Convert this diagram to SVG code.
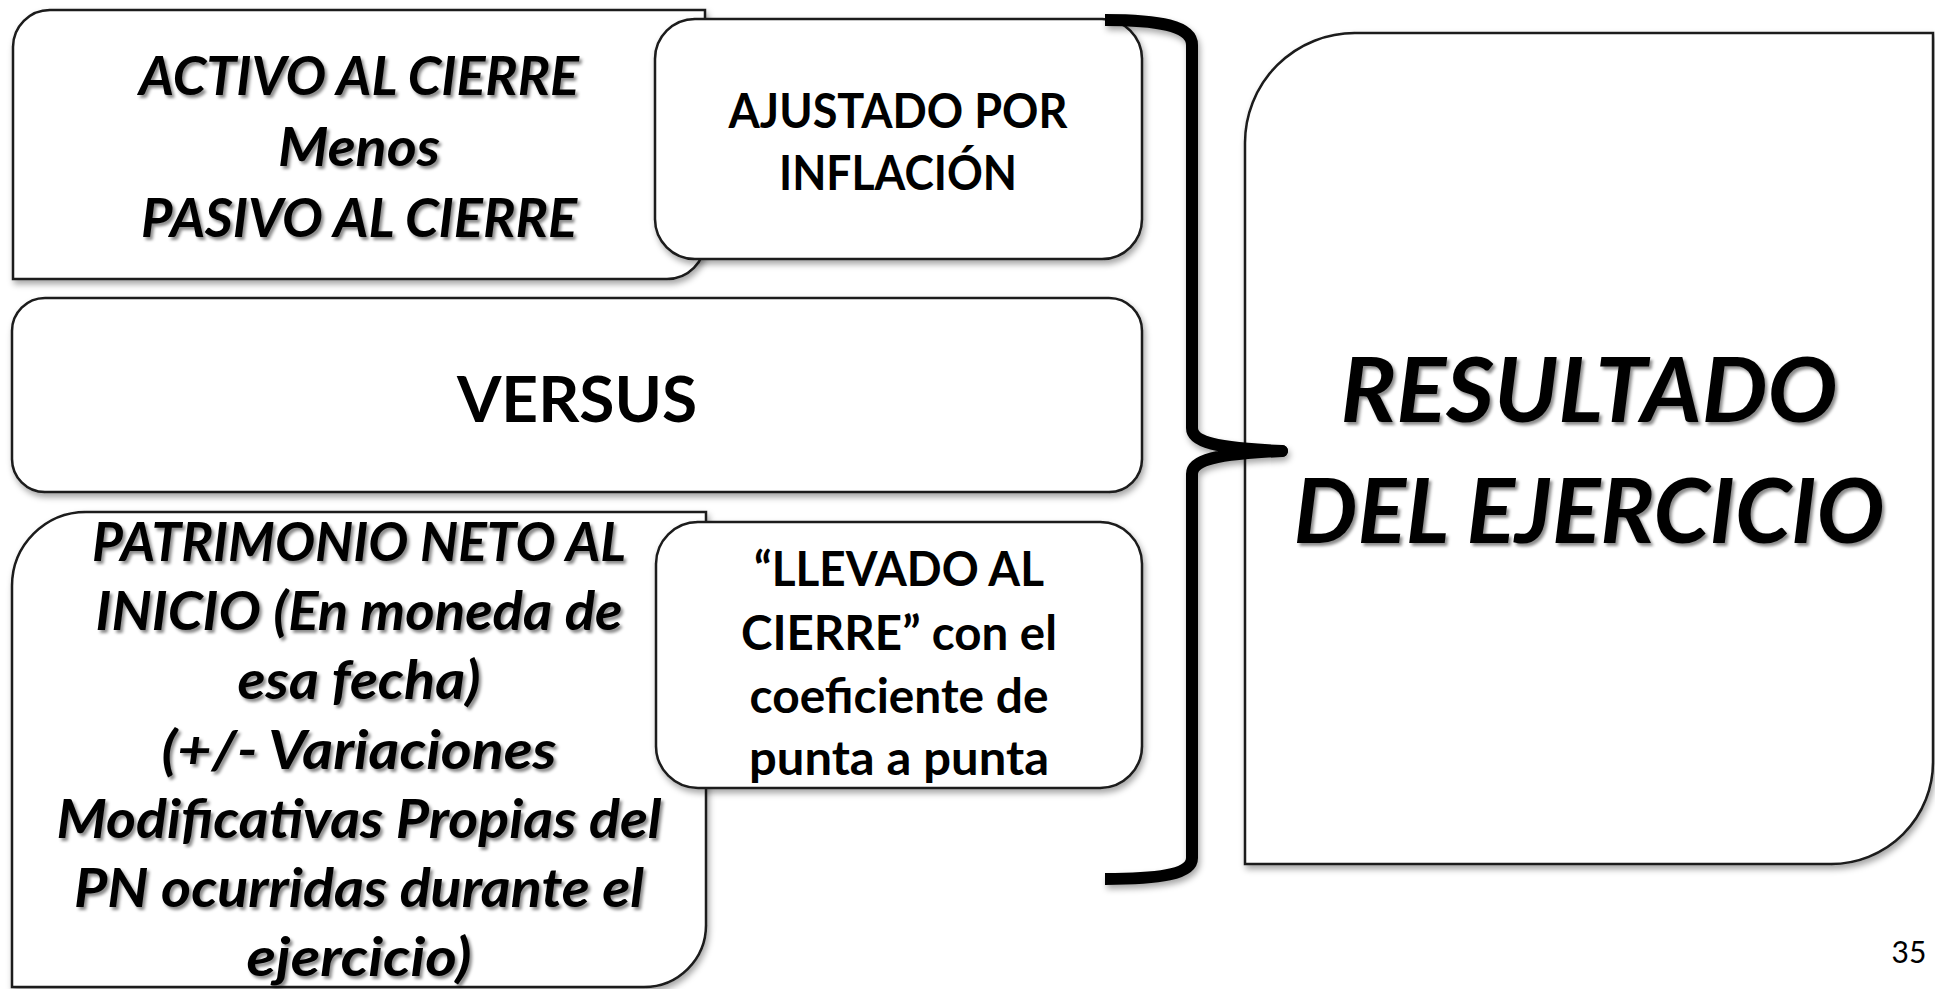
<svg xmlns="http://www.w3.org/2000/svg" width="1935" height="989" viewBox="0 0 1935 989">
<defs>
<filter id="boxShadow" x="-5%" y="-5%" width="115%" height="115%">
<feDropShadow dx="2" dy="4" stdDeviation="3" flood-color="#000" flood-opacity="0.35"/>
</filter>
<filter id="txtShadow" x="-5%" y="-10%" width="115%" height="130%">
<feDropShadow dx="2.5" dy="3" stdDeviation="1.5" flood-color="#000" flood-opacity="0.45"/>
</filter>
<style>
.box{fill:#fff;stroke:#1a1a1a;stroke-width:2.5;filter:url(#boxShadow)}
.bi{font-family:Lato,"Liberation Sans",sans-serif;font-weight:bold;font-style:italic;fill:#000;text-anchor:middle;filter:url(#txtShadow)}
.b{font-family:Lato,"Liberation Sans",sans-serif;font-weight:bold;fill:#000;text-anchor:middle}
.brace{fill:none;stroke:#000;stroke-width:12;stroke-linejoin:round;filter:url(#boxShadow)}
</style>
</defs>
<rect width="1935" height="989" fill="#fff"/>

<g id="node-activo">
<path class="box" d="M13,47 A37,37 0 0 1 50,10 H705 V241 A38,38 0 0 1 667,279 H13 Z"/>
<text class="bi" font-size="54" x="359" y="95" textLength="440" lengthAdjust="spacingAndGlyphs">ACTIVO AL CIERRE</text>
<text class="bi" font-size="54" x="359" y="166" textLength="162" lengthAdjust="spacingAndGlyphs">Menos</text>
<text class="bi" font-size="54" x="359" y="237" textLength="436" lengthAdjust="spacingAndGlyphs">PASIVO AL CIERRE</text>
</g>

<g id="node-ajustado">
<rect class="box" x="655" y="19" width="487" height="240" rx="40" ry="40"/>
<text class="b" font-size="47" x="898" y="128" textLength="339" lengthAdjust="spacingAndGlyphs">AJUSTADO POR</text>
<text class="b" font-size="47" x="898" y="190" textLength="238" lengthAdjust="spacingAndGlyphs">INFLACIÓN</text>
</g>

<g id="node-versus">
<rect class="box" x="12" y="298" width="1130" height="194" rx="33" ry="33"/>
<text class="b" font-size="64" x="577" y="422">VERSUS</text>
</g>

<g id="node-patrimonio">
<path class="box" d="M12,586 A74,74 0 0 1 86,512 H706 V925 A62,62 0 0 1 644,987 H12 Z"/>
<text class="bi" font-size="54" x="359" y="561" textLength="534" lengthAdjust="spacingAndGlyphs">PATRIMONIO NETO AL</text>
<text class="bi" font-size="54" x="359" y="630" textLength="527" lengthAdjust="spacingAndGlyphs">INICIO (En moneda de</text>
<text class="bi" font-size="54" x="359" y="699" textLength="243" lengthAdjust="spacingAndGlyphs">esa fecha)</text>
<text class="bi" font-size="54" x="359" y="769" textLength="395" lengthAdjust="spacingAndGlyphs">(+/- Variaciones</text>
<text class="bi" font-size="54" x="359" y="838" textLength="605" lengthAdjust="spacingAndGlyphs">Modificativas Propias del</text>
<text class="bi" font-size="54" x="359" y="907" textLength="570" lengthAdjust="spacingAndGlyphs">PN ocurridas durante el</text>
<text class="bi" font-size="54" x="359" y="976" textLength="225" lengthAdjust="spacingAndGlyphs">ejercicio)</text>
</g>

<g id="node-llevado">
<rect class="box" x="656" y="522" width="486" height="266" rx="42" ry="42"/>
<text class="b" font-size="47" x="899" y="586" textLength="290" lengthAdjust="spacingAndGlyphs">“LLEVADO AL</text>
<text class="b" font-size="47" x="899" y="650" textLength="316" lengthAdjust="spacingAndGlyphs">CIERRE” con el</text>
<text class="b" font-size="47" x="899" y="713" textLength="299" lengthAdjust="spacingAndGlyphs">coeficiente de</text>
<text class="b" font-size="47" x="899" y="775" textLength="300" lengthAdjust="spacingAndGlyphs">punta a punta</text>
</g>

<g id="node-resultado">
<path class="box" d="M1245,143 A110,110 0 0 1 1355,33 H1933 V762 A102,102 0 0 1 1831,864 H1245 Z"/>
<text class="bi" font-size="90" x="1589" y="422" textLength="497" lengthAdjust="spacingAndGlyphs">RESULTADO</text>
<text class="bi" font-size="90" x="1589" y="543" textLength="591" lengthAdjust="spacingAndGlyphs">DEL EJERCICIO</text>
</g>

<g id="connectors">
<path class="brace" d="M1105,20 C1160,20 1192,26 1192,45 L1192,428 C1192,442 1215,448 1282,451 C1215,454 1192,460 1192,474 L1192,858 C1192,874 1160,879 1105,879"/>
<line x1="1235" y1="451" x2="1282" y2="451" stroke="#000" stroke-width="12" stroke-linecap="round"/>
</g>

<text x="1909" y="963" font-family="Lato,'Liberation Sans',sans-serif" font-size="30" text-anchor="middle" fill="#000">35</text>
</svg>
